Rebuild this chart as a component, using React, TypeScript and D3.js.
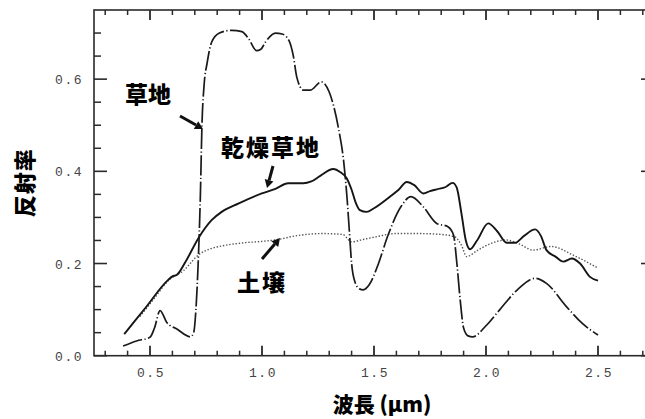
import React from "react";
import * as d3 from "d3";

const grassX = [0.38, 0.44, 0.5, 0.52, 0.545, 0.575, 0.62, 0.68, 0.695, 0.705, 0.715, 0.725, 0.732, 0.742, 0.755, 0.775, 0.81, 0.865, 0.91, 0.94, 0.975, 0.995, 1.015, 1.06, 1.09, 1.12, 1.14, 1.155, 1.185, 1.215, 1.265, 1.3, 1.34, 1.365, 1.38, 1.39, 1.4, 1.415, 1.435, 1.452, 1.48, 1.52, 1.56, 1.62, 1.665, 1.72, 1.78, 1.83, 1.855, 1.87, 1.885, 1.9, 1.92, 1.94, 2.0, 2.06, 2.14, 2.22, 2.27, 2.36, 2.43, 2.5];
const grassY = [0.021, 0.032, 0.04, 0.06, 0.098, 0.072, 0.058, 0.041, 0.05, 0.1, 0.2, 0.35, 0.5, 0.59, 0.635, 0.68, 0.7, 0.706, 0.703, 0.688, 0.662, 0.665, 0.68, 0.7, 0.698, 0.684, 0.65, 0.605, 0.576, 0.576, 0.594, 0.572, 0.497, 0.42, 0.34, 0.27, 0.2, 0.16, 0.145, 0.143, 0.155, 0.2, 0.258, 0.323, 0.345, 0.323, 0.287, 0.28, 0.262, 0.2, 0.12, 0.06, 0.043, 0.041, 0.065, 0.099, 0.143, 0.168, 0.157, 0.106, 0.07, 0.045];

const dryX = [0.385, 0.48, 0.58, 0.6, 0.619, 0.66, 0.716, 0.775, 0.82, 0.894, 0.999, 1.06, 1.117, 1.184, 1.22, 1.26, 1.318, 1.35, 1.378, 1.4, 1.42, 1.437, 1.467, 1.5, 1.571, 1.61, 1.646, 1.68, 1.72, 1.75, 1.78, 1.82, 1.851, 1.869, 1.89, 1.91, 1.929, 1.96, 2.01, 2.05, 2.092, 2.13, 2.17, 2.219, 2.245, 2.27, 2.31, 2.345, 2.383, 2.42, 2.464, 2.5];
const dryY = [0.047, 0.104, 0.164, 0.172, 0.175, 0.205, 0.255, 0.294, 0.312, 0.33, 0.352, 0.362, 0.374, 0.374, 0.378, 0.39, 0.405, 0.398, 0.385, 0.36, 0.33, 0.316, 0.312, 0.32, 0.345, 0.36, 0.377, 0.37, 0.352, 0.357, 0.361, 0.366, 0.375, 0.365, 0.31, 0.25, 0.231, 0.25, 0.287, 0.27, 0.245, 0.245, 0.26, 0.274, 0.26, 0.229, 0.215, 0.204, 0.211, 0.2, 0.171, 0.163];

const soilX = [0.455, 0.52, 0.58, 0.65, 0.72, 0.77, 0.82, 0.92, 1.0, 1.07, 1.15, 1.27, 1.36, 1.4, 1.45, 1.5, 1.6, 1.7, 1.8, 1.86, 1.89, 1.914, 1.96, 2.02, 2.09, 2.15, 2.21, 2.29, 2.39, 2.5];
const soilY = [0.085, 0.125, 0.162, 0.185, 0.22, 0.232, 0.238, 0.245, 0.248, 0.252, 0.26, 0.265, 0.263, 0.247, 0.252, 0.257, 0.265, 0.265, 0.263, 0.258, 0.24, 0.215, 0.228, 0.243, 0.251, 0.242, 0.229, 0.237, 0.218, 0.19];

const xMajorTicks = [0.5, 1.0, 1.5, 2.0, 2.5];
const yMajorTicks = [0.0, 0.2, 0.4, 0.6];
const xTickLabels = ["0.5", "1.0", "1.5", "2.0", "2.5"];
const yTickLabels = ["0.0", "0.2", "0.4", "0.6"];

const xLabel = "波長 (μm)";
const yLabel = "反射率";
const labelGrass = "草地";
const labelDry = "乾燥草地";
const labelSoil = "土壌";

const W = 645;
const H = 419;
const L = 94, R = 654, T = 10, B = 355.7;

export default function App() {
  const x = d3.scaleLinear().domain([0.25, 2.75]).range([L, R]);
  const y = d3.scaleLinear().domain([0, 0.75]).range([B, T]);

  const mk = (xs: number[], ys: number[]) =>
    d3.line<number>().x((_, i) => x(xs[i])).y((_, i) => y(ys[i])).curve(d3.curveMonotoneX)(xs) || "";

  const xMinor = d3.range(3, 28).map((v) => v / 10).filter((v) => Math.abs(v * 2 - Math.round(v * 2)) > 1e-6);
  const yMinor = d3.range(1, 15).map((v) => v * 0.05).filter((v) => Math.abs(v * 5 - Math.round(v * 5)) > 1e-6);

  const axisColor = "#2a2a2a";
  const tickFont = "'Liberation Mono', 'DejaVu Sans Mono', monospace";
  const cjk = "'Noto Sans CJK JP', 'Noto Sans', sans-serif";

  const arrow = (x1: number, y1: number, x2: number, y2: number) => {
    const a = Math.atan2(y2 - y1, x2 - x1);
    const hl = 8, hw = 4.5;
    const bx = x2 - hl * Math.cos(a), by = y2 - hl * Math.sin(a);
    const p1 = [bx + hw * Math.sin(a), by - hw * Math.cos(a)];
    const p2 = [bx - hw * Math.sin(a), by + hw * Math.cos(a)];
    return (
      <g>
        <line x1={x1} y1={y1} x2={bx} y2={by} stroke="#111" strokeWidth={3} />
        <polygon points={`${x2},${y2} ${p1[0]},${p1[1]} ${p2[0]},${p2[1]}`} fill="#111" />
      </g>
    );
  };

  return (
    <svg width={W} height={H} style={{ position: "absolute", left: 0, top: 0, background: "#fff" }}>
      <rect x={0} y={0} width={W} height={H} fill="#fff" />
      <rect x={L} y={T} width={R - L} height={B - T} fill="none" stroke={axisColor} strokeWidth={1.6} />
      {xMajorTicks.map((v) => (
        <g key={"xm" + v}>
          <line x1={x(v)} x2={x(v)} y1={B} y2={B - 10} stroke={axisColor} strokeWidth={1.8} />
          <line x1={x(v)} x2={x(v)} y1={T} y2={T + 10} stroke={axisColor} strokeWidth={1.8} />
        </g>
      ))}
      {xMinor.map((v) => (
        <g key={"xn" + v}>
          <line x1={x(v)} x2={x(v)} y1={B} y2={B - 5} stroke={axisColor} strokeWidth={1.5} />
          <line x1={x(v)} x2={x(v)} y1={T} y2={T + 5} stroke={axisColor} strokeWidth={1.5} />
        </g>
      ))}
      {yMajorTicks.map((v) => (
        <g key={"ym" + v}>
          <line x1={L} x2={L + 13} y1={y(v)} y2={y(v)} stroke={axisColor} strokeWidth={1.6} />
          <line x1={R} x2={R - 13} y1={y(v)} y2={y(v)} stroke={axisColor} strokeWidth={1.6} />
        </g>
      ))}
      {yMinor.map((v) => (
        <g key={"yn" + v}>
          <line x1={L} x2={L + 7} y1={y(v)} y2={y(v)} stroke={axisColor} strokeWidth={1.5} />
          <line x1={R} x2={R - 7} y1={y(v)} y2={y(v)} stroke={axisColor} strokeWidth={1.5} />
        </g>
      ))}
      {xMajorTicks.map((v, i) => (
        <text key={"xl" + v} x={x(v) + 1} y={B + 21} textAnchor="middle" fontFamily={tickFont} fontSize={13} letterSpacing={1.5} fill="#444">
          {xTickLabels[i]}
        </text>
      ))}
      {yMajorTicks.map((v, i) => (
        <text key={"yl" + v} x={L - 11} y={y(v) + 5} textAnchor="end" fontFamily={tickFont} fontSize={13} letterSpacing={1.5} fill="#444">
          {yTickLabels[i]}
        </text>
      ))}
      <path d={mk(soilX, soilY)} fill="none" stroke="#555" strokeWidth={1.4} strokeDasharray="1.4,1.8" />
      <path d={mk(dryX, dryY)} fill="none" stroke="#151515" strokeWidth={1.9} />
      <path d={mk(grassX, grassY)} fill="none" stroke="#1a1a1a" strokeWidth={1.7} strokeDasharray="20,2.5,1.2,2.5" />
      <text x={125} y={103} fontFamily={cjk} fontWeight={900} fontSize={23} fill="#000">{labelGrass}</text>
      {arrow(180, 116, 203, 129)}
      <text x={221} y={156} fontFamily={cjk} fontWeight={900} fontSize={23} letterSpacing={2} fill="#000">{labelDry}</text>
      {arrow(273, 166, 267, 188)}
      <text x={237} y={291} fontFamily={cjk} fontWeight={900} fontSize={23} letterSpacing={2} fill="#000">{labelSoil}</text>
      {arrow(262, 259, 280, 238)}
      <text x={382} y={412} textAnchor="middle" fontFamily={cjk} fontWeight={900} fontSize={21} fill="#000">{xLabel}</text>
      <text transform={`translate(33,${(T + B) / 2}) rotate(-90)`} textAnchor="middle" fontFamily={cjk} fontWeight={900} fontSize={22} letterSpacing={1} fill="#000">{yLabel}</text>
    </svg>
  );
}
